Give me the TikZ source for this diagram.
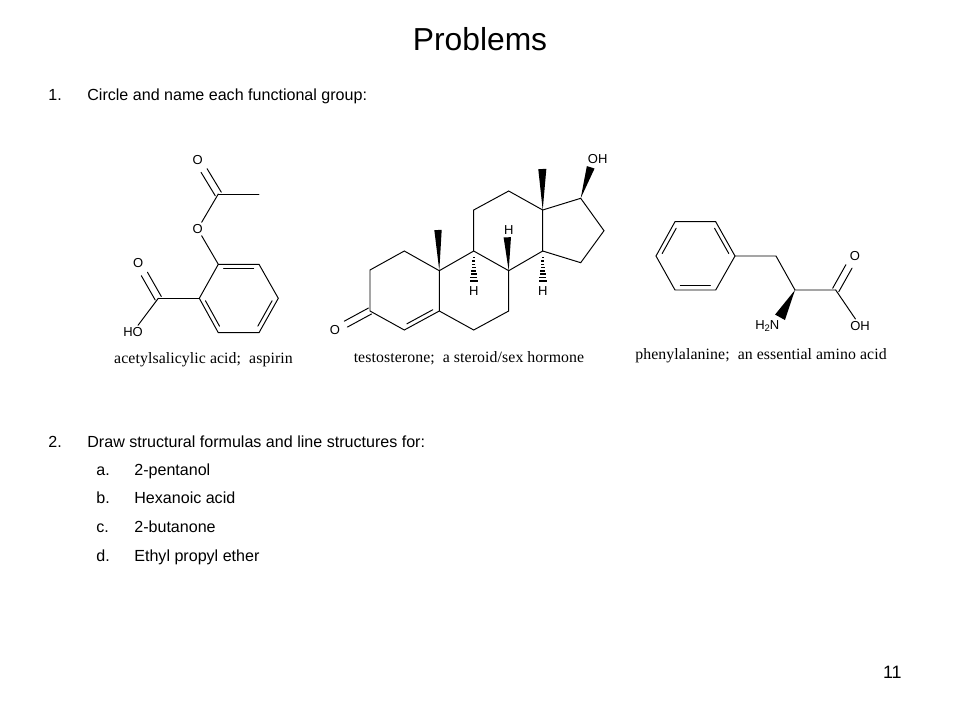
\documentclass[tikz,border=0pt]{standalone}
\usepackage{fontspec}
\setmainfont{Liberation Sans}
\newfontfamily\captionfont[LetterSpace=0.6]{Liberation Serif}
\usetikzlibrary{calc}

\tikzset{
  bond/.style={line width=0.55pt, line cap=round},
  atomlabel/.style={font=\fontsize{7.4}{8}\selectfont, inner sep=1pt},
  listtext/.style={anchor=base west, inner sep=0pt, font=\fontsize{9.15}{11}\selectfont},
  namelabel/.style={inner sep=0pt, font=\captionfont\fontsize{9}{10}\selectfont}
}

% second line of a double bond, on the side given by the angle
\newcommand{\innerbond}[3]{\draw[bond] ($(#1)!0.13!(#2)!2.4pt!#3:(#2)$) -- ($(#2)!0.13!(#1)!2.4pt!-#3:(#1)$);}
% solid wedge from the thin end to the wide end
\newcommand{\wedgebond}[3]{\fill (#1) -- ($(#2)!#3!90:(#1)$) -- ($(#2)!#3!-90:(#1)$) -- cycle;}
% hashed wedge, thin end first
\newcommand{\hashbond}[2]{%
  \foreach \t in {0.2,0.3,...,1.0} {
    \draw[line width=0.85pt] ($(#1)!\t!(#2)!\t*2.4pt!90:(#2)$) -- ($(#1)!\t!(#2)!\t*2.4pt!-90:(#2)$);
  }}

\begin{document}
\begin{tikzpicture}[x=0.02cm,y=-0.02cm]
  \fill[white] (0,0) rectangle (960,720);
  \useasboundingbox (0,0) rectangle (960,720);

  % Title and page number
  \node[inner sep=0pt, font=\fontsize{18.1}{20}\selectfont] (title) at (480,39) {Problems};
  \node[inner sep=0pt, anchor=base east, font=\fontsize{10.2}{12}\selectfont] (pagenum) at (902,678) {11};

  % Problem list
  \node[listtext] (numone) at (48,100) {1.};
  \node[listtext] (textone) at (87,100) {Circle and name each functional group:};
  \node[listtext] (numtwo) at (48,447) {2.};
  \node[listtext] (texttwo) at (87,447) {Draw structural formulas and line structures for:};
  \node[listtext] (itema) at (96,475) {a.};
  \node[listtext] (texta) at (134,475) {2-pentanol};
  \node[listtext] (itemb) at (96,503) {b.};
  \node[listtext] (textb) at (134,503) {Hexanoic acid};
  \node[listtext] (itemc) at (96,532) {c.};
  \node[listtext] (textc) at (134,532) {2-butanone};
  \node[listtext] (itemd) at (96,561) {d.};
  \node[listtext] (textd) at (134,561) {Ethyl propyl ether};

  % Aspirin
  \node[atomlabel] (asOa) at (197.7,160) {O};
  \node[atomlabel] (asOb) at (197.7,229) {O};
  \node[atomlabel] (asOc) at (138.3,263.3) {O};
  \node[atomlabel] (asOH) at (133,332) {HO};
  \coordinate (asCa) at (218.3,194);
  \coordinate (asMe) at (259,194);
  \coordinate (asRa) at (218.3,264.3);
  \coordinate (asRb) at (259,264.3);
  \coordinate (asRc) at (278.3,298.3);
  \coordinate (asRd) at (259,332.7);
  \coordinate (asRe) at (218.3,332.7);
  \coordinate (asRf) at (199.3,298.3);
  \coordinate (asCb) at (158.3,298.3);
  \draw[bond] (asRa) -- (asRb) -- (asRc) -- (asRd) -- (asRe) -- (asRf) -- cycle;
  \innerbond{asRa}{asRb}{-90}
  \innerbond{asRc}{asRd}{-90}
  \innerbond{asRe}{asRf}{-90}
  \draw[bond] (asRa) -- (asOb);
  \draw[bond] (asOb) -- (asCa);
  \draw[bond] (asCa) -- (asMe);
  \draw[bond] ($(asCa)!2.0pt!90:(asOa)$) -- ($(asOa.center)!7pt!(asCa)!2.0pt!-90:(asCa)$);
  \draw[bond] ($(asCa)!2.0pt!-90:(asOa)$) -- ($(asOa.center)!7pt!(asCa)!2.0pt!90:(asCa)$);
  \draw[bond] (asRf) -- (asCb);
  \draw[bond] ($(asCb)!2.0pt!90:(asOc)$) -- ($(asOc.center)!7pt!(asCb)!2.0pt!-90:(asCb)$);
  \draw[bond] ($(asCb)!2.0pt!-90:(asOc)$) -- ($(asOc.center)!7pt!(asCb)!2.0pt!90:(asCb)$);
  \draw[bond] (asCb) -- (asOH);
  \node[namelabel] (asName) at (203.5,360) {acetylsalicylic acid;\ \ aspirin};

  % Testosterone
  \node[atomlabel] (teO) at (335,330) {O};
  \node[atomlabel] (teOH) at (597.7,159.3) {OH};
  \node[atomlabel] (teHa) at (473.7,290.7) {H};
  \node[atomlabel] (teHb) at (508.7,230) {H};
  \node[atomlabel] (teHc) at (542.7,290.7) {H};
  \coordinate (teCa) at (404.3,251);
  \coordinate (teCb) at (370,270);
  \coordinate (teCc) at (370,311);
  \coordinate (teCd) at (404.3,330);
  \coordinate (teCe) at (439.3,311);
  \coordinate (teCf) at (473.7,330);
  \coordinate (teCg) at (508.7,311);
  \coordinate (teCh) at (508.7,270.7);
  \coordinate (teCi) at (473.7,251);
  \coordinate (teCj) at (439.3,270.7);
  \coordinate (teCk) at (473.7,210);
  \coordinate (teCl) at (508.7,191);
  \coordinate (teCm) at (542.7,210);
  \coordinate (teCn) at (542.7,251);
  \coordinate (teCo) at (580.7,262.7);
  \coordinate (teCp) at (604,230.7);
  \coordinate (teCq) at (580.7,198.3);
  \draw[bond] (teCj) -- (teCa) -- (teCb) -- (teCc) -- (teCd) -- (teCe) -- (teCf) -- (teCg) -- (teCh) -- (teCi) -- (teCj) -- (teCe);
  \draw[bond] (teCi) -- (teCk) -- (teCl) -- (teCm) -- (teCn) -- (teCh);
  \draw[bond] (teCn) -- (teCo) -- (teCp) -- (teCq) -- (teCm);
  \innerbond{teCd}{teCe}{90}
  \draw[bond] ($(teCc)!1.9pt!90:(teO)$) -- ($(teO.center)!7pt!(teCc)!1.9pt!-90:(teCc)$);
  \draw[bond] ($(teCc)!1.9pt!-90:(teO)$) -- ($(teO.center)!7pt!(teCc)!1.9pt!90:(teCc)$);
  \coordinate (teMa) at (438,230);
  \coordinate (teMb) at (542.3,169);
  \coordinate (teWo) at (590.7,167.3);
  \coordinate (teWh) at (507.3,237.3);
  \wedgebond{teCj}{teMa}{2.1pt}
  \wedgebond{teCm}{teMb}{2.3pt}
  \wedgebond{teCq}{teWo}{2.3pt}
  \wedgebond{teCh}{teWh}{2.1pt}
  \hashbond{teCi}{teHa.north}
  \hashbond{teCn}{teHc.north}
  \node[namelabel] (teName) at (469,358) {testosterone;\ \ a steroid/sex hormone};

  % Phenylalanine
  \node[atomlabel] (phO) at (855,255.7) {O};
  \node[atomlabel] (phOH) at (860,325.7) {OH};
  \node[atomlabel] (phN) at (767.3,325.7) {H\raisebox{-0.25ex}{\fontsize{5.4}{6}\selectfont 2}N};
  \coordinate (phRa) at (675,221.7);
  \coordinate (phRb) at (715.7,221.7);
  \coordinate (phRc) at (735,256);
  \coordinate (phRd) at (715.7,290);
  \coordinate (phRe) at (675,290);
  \coordinate (phRf) at (656,256);
  \coordinate (phCa) at (776,256);
  \coordinate (phCb) at (795,290);
  \coordinate (phCc) at (835.7,290);
  \coordinate (phWn) at (780,317.3);
  \draw[bond] (phRa) -- (phRb) -- (phRc) -- (phRd) -- (phRe) -- (phRf) -- cycle;
  \innerbond{phRb}{phRc}{-90}
  \innerbond{phRd}{phRe}{-90}
  \innerbond{phRf}{phRa}{-90}
  \draw[bond] (phRc) -- (phCa) -- (phCb) -- (phCc);
  \draw[bond] (phCc) -- (phOH);
  \draw[bond] ($(phCc)!2.0pt!90:(phO)$) -- ($(phO.center)!7pt!(phCc)!2.0pt!-90:(phCc)$);
  \draw[bond] ($(phCc)!2.0pt!-90:(phO)$) -- ($(phO.center)!7pt!(phCc)!2.0pt!90:(phCc)$);
  \wedgebond{phCb}{phWn}{3.2pt}
  \node[namelabel] (phName) at (761,356) {phenylalanine;\ \ an essential amino acid};
\end{tikzpicture}
\end{document}
